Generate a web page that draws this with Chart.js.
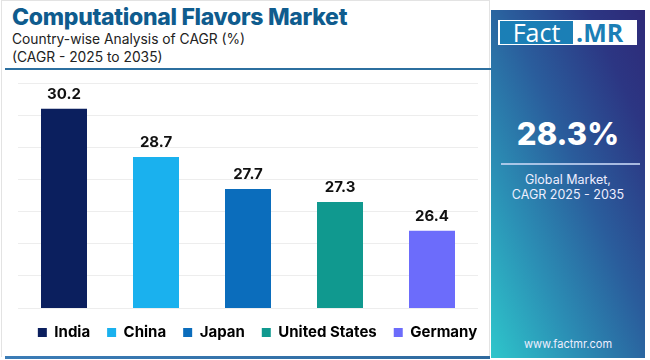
<!DOCTYPE html>
<html>
<head>
<meta charset="utf-8">
<script src="https://cdn.jsdelivr.net/npm/chart.js@4.4.1/dist/chart.umd.min.js"></script>
<style>
  html, body { margin: 0; padding: 0; background: #fff; }
  body { width: 650px; height: 360px; overflow: hidden; position: relative; font-family: Inter, "Noto Sans", sans-serif; }
  #card { position: absolute; left: 1px; top: 0; width: 489px; height: 357px; border: 1px solid #e3e3e3; border-bottom: none; box-sizing: border-box; }
  #bottomLine { position: absolute; left: 5px; top: 356px; width: 485px; height: 3px; background: linear-gradient(to right, #3b7cb6, #2f6a9e); }
  #title { position: absolute; left: 12px; top: 3px; font-size: 23px; font-weight: 800; color: #0f5c8e; letter-spacing: -0.3px; white-space: nowrap; }
  .sub { position: absolute; left: 12px; font-size: 13.8px; color: #222; white-space: nowrap; }
  #titleLine { position: absolute; left: 5px; top: 68px; width: 486px; height: 2px; background: #2c6f9f; }
  #wrap { position: absolute; left: 0; top: 76px; width: 515px; height: 274px; overflow: hidden; }
  #panel { position: absolute; left: 491px; top: 10px; width: 154px; height: 348px;
    background: linear-gradient(to top right, #2ec6cb 0%, #2b8fb5 28%, #2a5d9c 55%, #2c3683 82%, #2e2a78 100%); }
  #logo { position: absolute; left: 7px; top: 10px; width: 139px; height: 25px; background: #fff; }
  #logoFact { position: absolute; left: 2px; top: 1px; width: 73px; height: 23px; background: #1b7fb6; color: #fff; font-size: 25px; line-height: 23px; text-align: center; font-family: "Open Sans", sans-serif; }
  #logoMR { position: absolute; left: 78px; top: 1px; height: 23px; color: #1b7fb6; font-size: 25px; line-height: 23px; font-weight: 700; font-family: "Open Sans", sans-serif; }
  #big { position: absolute; left: 0; width: 154px; top: 105px; text-align: center; color: #fff; font-size: 31px; font-weight: 800; }
  #panelLine { position: absolute; left: 10px; top: 153px; width: 139px; height: 2px; background: rgba(200, 215, 245, 0.8); }
  #glob { position: absolute; left: 0; width: 154px; top: 162px; text-align: center; color: #eef; font-size: 12.5px; line-height: 15px; }
  #url { position: absolute; left: 0; width: 154px; top: 327px; text-align: center; color: #eef; font-size: 11px; }
</style>
</head>
<body>
<div id="card"></div>
<div id="title">Computational Flavors Market</div>
<div class="sub" style="top:31px">Country-wise Analysis of CAGR (%)</div>
<div class="sub" style="top:49px">(CAGR - 2025 to 2035)</div>
<div id="titleLine"></div>
<div id="wrap"><canvas id="chart"></canvas></div>
<div id="bottomLine"></div>
<div id="panel">
  <div id="logo"><div id="logoFact">Fact</div><div id="logoMR">.MR</div></div>
  <div id="big">28.3%</div>
  <div id="panelLine"></div>
  <div id="glob">Global Market,<br>CAGR 2025 - 2035</div>
  <div id="url">www.factmr.com</div>
</div>
<script>
  // Chart data
  const countries = ['India', 'China', 'Japan', 'United States', 'Germany'];
  const cagrValues = [30.2, 28.7, 27.7, 27.3, 26.4];
  const barColors = ['#0b1f5e', '#1ab1ee', '#0b6dbc', '#10998f', '#6c6cfb'];
  const yMin = 24;
  const yMax = 31;

  // Value labels above each bar
  const valueLabels = {
    id: 'valueLabels',
    afterDatasetsDraw(chart) {
      const ctx = chart.ctx;
      const meta = chart.getDatasetMeta(0);
      ctx.save();
      ctx.font = '700 15px Inter, sans-serif';
      ctx.fillStyle = '#111';
      ctx.textAlign = 'center';
      ctx.textBaseline = 'bottom';
      meta.data.forEach((bar, i) => {
        ctx.fillText(cagrValues[i].toFixed(1), bar.x, bar.y - 7);
      });
      ctx.restore();
    }
  };

  const canvas = document.getElementById('chart');
  canvas.width = 515;
  canvas.height = 274;

  new Chart(canvas.getContext('2d'), {
    type: 'bar',
    data: {
      labels: countries,
      datasets: [{
        data: cagrValues,
        backgroundColor: barColors,
        borderWidth: 0,
        barPercentage: 0.5,
        categoryPercentage: 1
      }]
    },
    options: {
      responsive: false,
      animation: false,
      layout: { padding: { left: 0, right: 0, top: 7, bottom: 0 } },
      scales: {
        x: { display: false },
        y: {
          min: yMin,
          max: yMax,
          ticks: { display: false, stepSize: 1 },
          border: { display: false },
          grid: { color: '#ededed', lineWidth: 1, drawTicks: false },
          afterFit: (scale) => { scale.width = 18; }
        },
        // empty axis on the right, only keeps space free beside the plot
        yRight: {
          position: 'right',
          min: yMin,
          max: yMax,
          ticks: { display: false },
          border: { display: false },
          grid: { display: false },
          afterFit: (scale) => { scale.width = 37; }
        }
      },
      plugins: {
        tooltip: { enabled: false },
        legend: {
          position: 'bottom',
          labels: {
            boxWidth: 9,
            boxHeight: 9,
            padding: 17,
            color: '#111',
            font: { family: 'Inter', size: 15, weight: '700' },
            generateLabels: () => countries.map((c, i) => ({
              text: c,
              fillStyle: barColors[i],
              strokeStyle: barColors[i],
              lineWidth: 0,
              index: i
            }))
          }
        }
      }
    },
    plugins: [valueLabels]
  });
</script>
</body>
</html>
